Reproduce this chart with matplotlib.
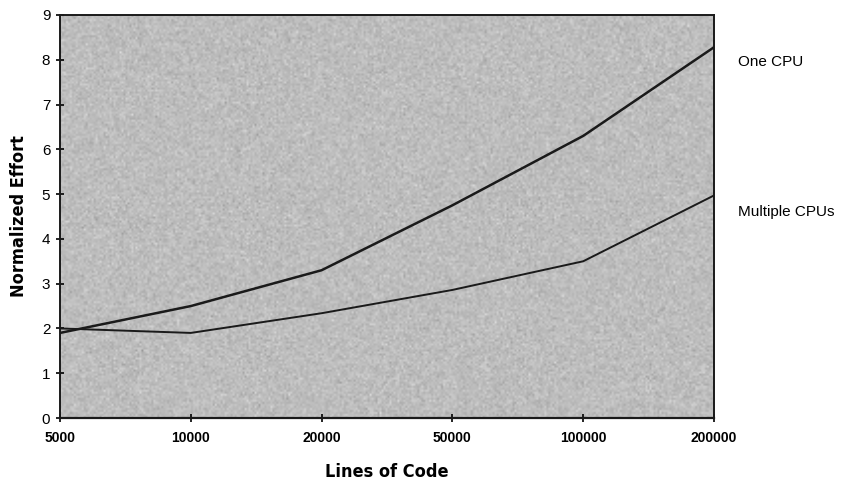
import numpy as np
import matplotlib.pyplot as plt

# lines of code categories (evenly spaced on the chart)
loc_labels = ["5000", "10000", "20000", "50000", "100000", "200000"]
one_cpu = [1.9, 2.5, 3.3, 4.75, 6.3, 8.28]
multi_cpu = [2.0, 1.9, 2.34, 2.86, 3.5, 4.97]

plt.rcParams['font.family'] = ['Liberation Sans', 'DejaVu Sans']

fig = plt.figure(figsize=(8.55, 4.83), dpi=100)
ax = fig.add_axes([60 / 855, 1 - 418 / 483, 654 / 855, 403 / 483])
ax.set_facecolor('#bdbdbd')

# speckled grey fill like an old print
rng = np.random.default_rng(3)
noise = 0.74 + 0.035 * rng.standard_normal((200, 330))
ax.imshow(noise, cmap='gray', vmin=0, vmax=1, aspect='auto',
          extent=(0, len(loc_labels) - 1, 0, 9), zorder=0, interpolation='bilinear')

x = np.arange(len(loc_labels))
ax.plot(x, one_cpu, color='#1a1a1a', lw=1.8, zorder=3)
ax.plot(x, multi_cpu, color='#1a1a1a', lw=1.4, zorder=3)

ax.set_xlim(0, len(loc_labels) - 1)
ax.set_ylim(0, 9)
ax.set_xticks(x)
ax.set_xticklabels(loc_labels)
ax.set_yticks(range(10))
ax.tick_params(axis='x', direction='inout', length=6, width=1.2, labelsize=10, pad=6)
ax.tick_params(axis='y', direction='inout', length=6, width=1.2, labelsize=11, pad=4)
for lab in ax.get_xticklabels():
    lab.set_fontweight('bold')
for sp in ax.spines.values():
    sp.set_color('#1a1a1a')
ax.spines['bottom'].set_linewidth(1.6)
ax.spines['left'].set_linewidth(1.4)
ax.spines['top'].set_linewidth(1.4)
ax.spines['right'].set_linewidth(1.4)

ax.set_xlabel("Lines of Code", fontsize=13, fontweight='bold',
              family='DejaVu Sans', fontstretch='condensed', labelpad=13)
ax.set_ylabel("Normalized Effort", fontsize=13, fontweight='bold',
              family='DejaVu Sans', fontstretch='condensed', labelpad=10)

fig.text(738 / 855, 1 - 62 / 483, "One CPU", fontsize=11, va='center', ha='left')
fig.text(738 / 855, 1 - 212 / 483, "Multiple CPUs", fontsize=11, va='center', ha='left')

fig.savefig('out.png', dpi=100)
